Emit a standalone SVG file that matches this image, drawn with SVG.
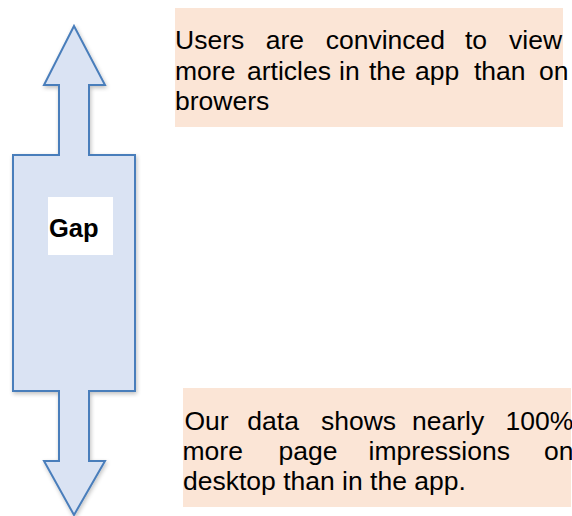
<svg xmlns="http://www.w3.org/2000/svg" width="572" height="516" viewBox="0 0 572 516">
<style>
.note{fill:#FBE5D6}
.t{font-family:"Liberation Sans",Arial,sans-serif;font-size:26.5px;fill:#000}
.gap{font-family:"Liberation Sans",Arial,sans-serif;font-size:25.5px;font-weight:bold;fill:#000}
.arrow{fill:#DAE3F3;stroke:#4A7EBB;stroke-width:2;stroke-linejoin:miter}
</style>
<defs>
<filter id="sh" x="-20%" y="-5%" width="140%" height="110%">
<feGaussianBlur in="SourceAlpha" stdDeviation="2"/>
<feOffset dx="1" dy="2" result="b"/>
<feComponentTransfer><feFuncA type="linear" slope="0.25"/></feComponentTransfer>
<feMerge><feMergeNode/><feMergeNode in="SourceGraphic"/></feMerge>
</filter>
</defs>
<rect width="572" height="516" fill="#fff"/>
<g id="gap-arrow">
<polygon class="arrow" filter="url(#sh)" points="74,26 105,85 89,85 89,155 135,155 135,391 89,391 89,461 105,461 74,515 44,461 59,461 59,391 13,391 13,155 59,155 59,85 44,85"/>
<rect x="48" y="197" width="65" height="58" fill="#fff"/>
<text class="gap" x="49" y="237">Gap</text>
</g>
<g id="top-note">
<rect class="note" x="175" y="8" width="388" height="119"/>
<text class="t" y="48.5"><tspan x="175">Users</tspan><tspan x="265.7">are</tspan><tspan x="325.7">convinced</tspan><tspan x="465">to</tspan><tspan x="509">view</tspan></text>
<text class="t" y="79.5"><tspan x="175">more</tspan><tspan x="247">articles</tspan><tspan x="339">in</tspan><tspan x="369">the</tspan><tspan x="415">app</tspan><tspan x="474">than</tspan><tspan x="539">on</tspan></text>
<text class="t" x="175" y="110">browers</text>
</g>
<g id="bottom-note">
<rect class="note" x="183" y="388" width="388" height="119"/>
<text class="t" y="429.5"><tspan x="184.5">Our</tspan><tspan x="247.3">data</tspan><tspan x="321">shows</tspan><tspan x="412">nearly</tspan><tspan x="505.5">100%</tspan></text>
<text class="t" y="459.5"><tspan x="182.5">more</tspan><tspan x="278.5">page</tspan><tspan x="368.5">impressions</tspan><tspan x="544">on</tspan></text>
<text class="t" x="183" y="489.5">desktop than in the app.</text>
</g>
<g id="connectors"/>
</svg>
